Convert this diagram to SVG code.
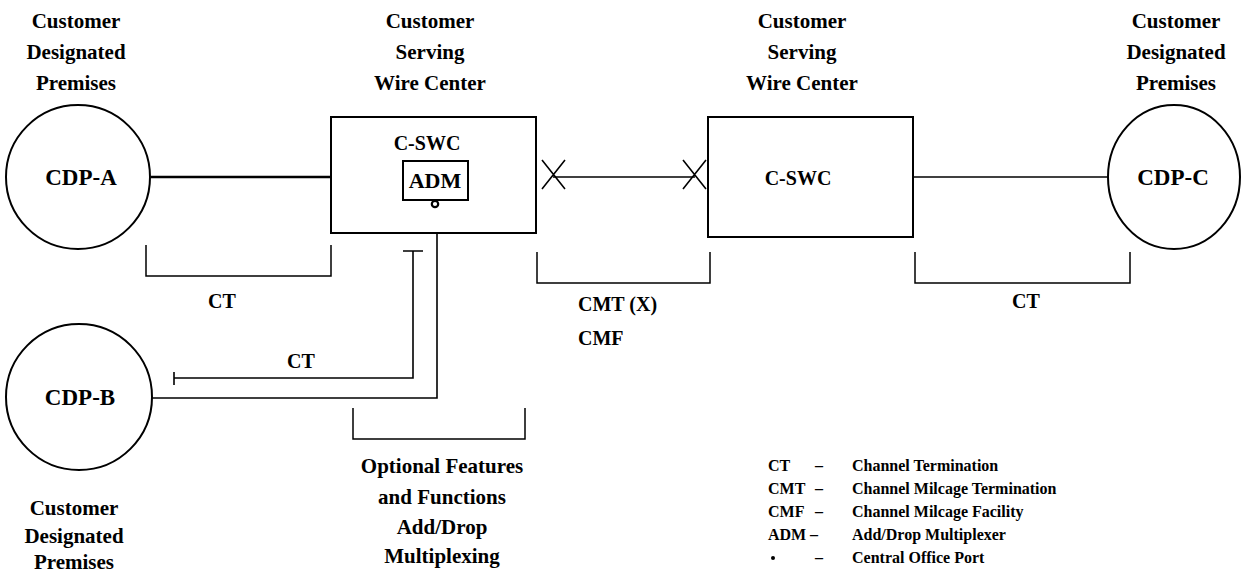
<svg xmlns="http://www.w3.org/2000/svg" width="1241" height="572" viewBox="0 0 1241 572">
<style>
  .t { font-family: "Liberation Serif", "Times New Roman", serif; font-weight: bold; fill: #000; }
  .h { font-size: 21px; text-anchor: middle; }
  .n { font-size: 20px; text-anchor: middle; }
  .nb { font-size: 23px; text-anchor: middle; }
  .s { font-size: 20px; text-anchor: start; }
  .lg { font-size: 16px; }
  .sh { fill: #fff; stroke: #000; stroke-width: 2; }
  .ln { fill: none; stroke: #000; stroke-width: 1.6; }
  .thick { fill: none; stroke: #000; stroke-width: 2.6; }
  .br { fill: none; stroke: #000; stroke-width: 1.5; }
</style>
<rect width="1241" height="572" fill="#fff"/>

<g id="connectors">
  <line class="thick" x1="151" y1="177" x2="403" y2="177"/>
  <line class="thick" x1="468" y1="177" x2="536" y2="177"/>
  <line class="ln" x1="553" y1="177" x2="695" y2="177"/>
  <line class="ln" x1="913" y1="177" x2="1108" y2="177"/>
  <path class="ln" d="M542,160 L565,189 M565,160 L542,189"/>
  <path class="ln" d="M683,160 L706,189 M706,160 L683,189"/>
  <path class="ln" d="M437,207 V398 H152"/>
  <path class="ln" d="M403,251 H423 M413,251 V378 H174 M174,372 V385"/>
</g>

<g id="header-a">
  <text class="t h" x="76" y="28">Customer</text>
  <text class="t h" x="76" y="59">Designated</text>
  <text class="t h" x="76" y="90">Premises</text>
</g>
<g id="header-swc1">
  <text class="t h" x="430" y="28">Customer</text>
  <text class="t h" x="430" y="59">Serving</text>
  <text class="t h" x="430" y="90">Wire Center</text>
</g>
<g id="header-swc2">
  <text class="t h" x="802" y="28">Customer</text>
  <text class="t h" x="802" y="59">Serving</text>
  <text class="t h" x="802" y="90">Wire Center</text>
</g>
<g id="header-c">
  <text class="t h" x="1176" y="28">Customer</text>
  <text class="t h" x="1176" y="59">Designated</text>
  <text class="t h" x="1176" y="90">Premises</text>
</g>

<g id="cdp-a">
  <circle class="sh" cx="78" cy="177" r="72"/>
  <text class="t nb" x="81" y="185">CDP-A</text>
</g>
<g id="cswc-1">
  <rect class="sh" x="331" y="117" width="205" height="116"/>
  <text class="t n" x="427" y="150">C-SWC</text>
</g>
<g id="adm">
  <rect class="sh" x="403" y="161" width="65" height="39" stroke-width="1.5"/>
  <text class="t nb" x="435" y="188" style="font-size:22px">ADM</text>
  <circle cx="435" cy="204" r="3.2" fill="#fff" stroke="#000" stroke-width="2.2"/>
</g>
<g id="cswc-2">
  <rect class="sh" x="708" y="117" width="205" height="120"/>
  <text class="t n" x="798" y="185">C-SWC</text>
</g>
<g id="cdp-c">
  <ellipse class="sh" cx="1174" cy="177" rx="66" ry="72"/>
  <text class="t nb" x="1173" y="185">CDP-C</text>
</g>
<g id="cdp-b">
  <circle class="sh" cx="79" cy="397" r="73"/>
  <text class="t nb" x="80" y="405">CDP-B</text>
</g>
<g id="footer-b">
  <text class="t h" x="74" y="515">Customer</text>
  <text class="t h" x="74" y="543">Designated</text>
  <text class="t h" x="74" y="569">Premises</text>
</g>

<g id="brackets">
  <path class="br" d="M146,245 V276 H331 V245"/>
  <text class="t n" x="222" y="308">CT</text>
  <path class="br" d="M537,252 V283 H710 V252"/>
  <text class="t s" x="578" y="311">CMT (X)</text>
  <text class="t s" x="578" y="345">CMF</text>
  <path class="br" d="M915,252 V283 H1130 V252"/>
  <text class="t n" x="1026" y="308">CT</text>
  <text class="t n" x="301" y="368">CT</text>
  <path class="br" d="M353,408 V439 H525 V408"/>
  <text class="t h" x="442" y="473">Optional Features</text>
  <text class="t h" x="442" y="504">and Functions</text>
  <text class="t h" x="442" y="534">Add/Drop</text>
  <text class="t h" x="442" y="563">Multiplexing</text>
</g>

<g id="legend">
  <text class="t lg" x="768" y="471">CT</text>
  <text class="t lg" x="815" y="471">–</text>
  <text class="t lg" x="852" y="471">Channel Termination</text>
  <text class="t lg" x="768" y="494">CMT</text>
  <text class="t lg" x="815" y="494">–</text>
  <text class="t lg" x="852" y="494">Channel Milcage Termination</text>
  <text class="t lg" x="768" y="517">CMF</text>
  <text class="t lg" x="815" y="517">–</text>
  <text class="t lg" x="852" y="517">Channel Milcage Facility</text>
  <text class="t lg" x="768" y="540">ADM</text>
  <text class="t lg" x="810" y="540">–</text>
  <text class="t lg" x="852" y="540">Add/Drop Multiplexer</text>
  <circle cx="773" cy="558" r="2" fill="#000"/>
  <text class="t lg" x="815" y="563">–</text>
  <text class="t lg" x="852" y="563">Central Office Port</text>
</g>
</svg>
